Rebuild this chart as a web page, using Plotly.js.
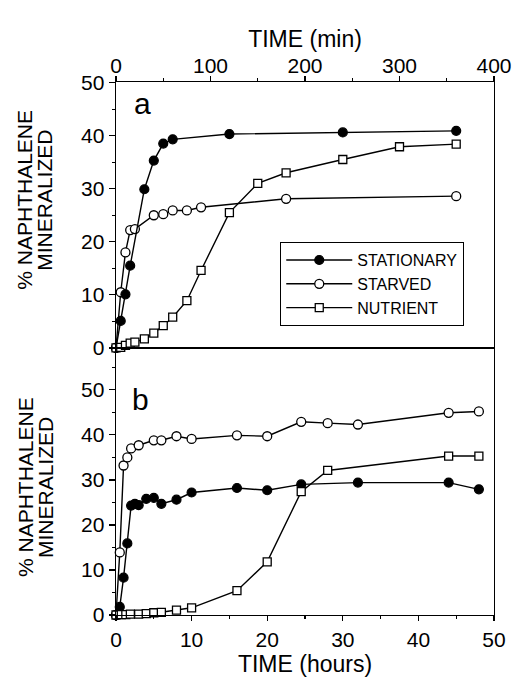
<!DOCTYPE html>
<html>
<head>
<meta charset="utf-8">
<script src="https://cdn.plot.ly/plotly-3.0.1.min.js"></script>
<style>html,body{margin:0;padding:0;background:#fff;}#chart{width:516px;height:685px;}</style>
</head>
<body>
<div id="chart"></div>
<script>
// Panel a: time in minutes
const aStationaryT = [0, 5, 10, 15, 30, 40, 50, 60, 120, 240, 360];
const aStationaryY = [0, 5.1, 10.1, 15.5, 29.9, 35.3, 38.5, 39.3, 40.3, 40.6, 40.9];
const aStarvedT = [0, 5, 10, 15, 20, 40, 50, 60, 75, 90, 180, 360];
const aStarvedY = [0, 10.5, 18.0, 22.2, 22.4, 25.0, 25.2, 25.9, 25.9, 26.5, 28.1, 28.6];
const aNutrientT = [0, 5, 10, 15, 20, 30, 40, 50, 60, 75, 90, 120, 150, 180, 240, 300, 360];
const aNutrientY = [0, 0.1, 0.5, 0.9, 1.1, 1.7, 2.8, 4.2, 5.8, 8.9, 14.6, 25.5, 31.0, 33.0, 35.5, 37.9, 38.4];

// Panel b: time in hours
const bStationaryT = [0, 0.5, 1, 1.5, 2, 2.5, 3, 4, 5, 6, 8, 10, 16, 20, 24.5, 32, 44, 48];
const bStationaryY = [0, 1.8, 8.3, 15.9, 24.3, 24.7, 24.4, 25.8, 26.0, 24.7, 25.6, 27.2, 28.2, 27.7, 29.0, 29.4, 29.4, 27.9];
const bStarvedT = [0, 0.5, 1, 1.5, 2, 3, 5, 6, 8, 10, 16, 20, 24.5, 28, 32, 44, 48];
const bStarvedY = [0, 13.9, 33.2, 35.0, 37.0, 37.7, 38.8, 38.8, 39.7, 39.1, 39.9, 39.7, 42.9, 42.6, 42.3, 44.9, 45.2];
const bNutrientT = [0, 0.7, 1.3, 1.9, 3, 4, 5, 6, 8, 10, 16, 20, 24.5, 28, 44, 48];
const bNutrientY = [0, 0.1, 0.1, 0.2, 0.2, 0.3, 0.5, 0.6, 1.1, 1.6, 5.4, 11.8, 27.4, 32.1, 35.3, 35.3];

const seriesNames = ['STATIONARY', 'STARVED', 'NUTRIENT'];
const xTitleA = 'TIME (min)';
const xTitleB = 'TIME (hours)';
const yTitleLines = ['% NAPHTHALENE', 'MINERALIZED'];
const panelLabels = ['a', 'b'];

const FONT = 'Liberation Sans, Arial, Helvetica, sans-serif';
const lineStyle = {color: '#000', width: 1.4};
const mk = {
  filled: {symbol: 'circle', size: 9, color: '#000', line: {color: '#000', width: 1.2}},
  open: {symbol: 'circle', size: 9, color: '#fff', line: {color: '#000', width: 1.3}},
  square: {symbol: 'square', size: 8, color: '#fff', line: {color: '#000', width: 1.3}}
};

function tr(x, y, name, marker, xa, ya, show) {
  return {x: x, y: y, name: name, type: 'scatter', mode: 'lines+markers',
    line: lineStyle, marker: marker, xaxis: xa, yaxis: ya, showlegend: show,
    cliponaxis: false, hoverinfo: 'skip'};
}

const data = [
  tr(aStarvedT, aStarvedY, seriesNames[1], mk.open, 'x', 'y', false),
  tr(aStationaryT, aStationaryY, seriesNames[0], mk.filled, 'x', 'y', false),
  tr(aNutrientT, aNutrientY, seriesNames[2], mk.square, 'x', 'y', false),
  tr(bStationaryT, bStationaryY, seriesNames[0], mk.filled, 'x2', 'y2', false),
  tr(bStarvedT, bStarvedY, seriesNames[1], mk.open, 'x2', 'y2', false),
  tr(bNutrientT, bNutrientY, seriesNames[2], mk.square, 'x2', 'y2', false),
  // legend entries (no data)
  {x: [null], y: [null], name: seriesNames[0], type: 'scatter', mode: 'lines+markers', line: lineStyle, marker: mk.filled, xaxis: 'x', yaxis: 'y', showlegend: true},
  {x: [null], y: [null], name: seriesNames[1], type: 'scatter', mode: 'lines+markers', line: lineStyle, marker: mk.open, xaxis: 'x', yaxis: 'y', showlegend: true},
  {x: [null], y: [null], name: seriesNames[2], type: 'scatter', mode: 'lines+markers', line: lineStyle, marker: mk.square, xaxis: 'x', yaxis: 'y', showlegend: true}
];

const axBase = {
  showline: true, linecolor: '#000', linewidth: 1.4, mirror: true,
  showgrid: false, zeroline: false, ticks: 'outside', ticklen: 6, tickwidth: 1.2, tickcolor: '#000',
  tickfont: {family: FONT, size: 21, color: '#000'},
  minor: {ticks: 'outside', ticklen: 3, tickwidth: 1.1, tickcolor: '#000', showgrid: false}
};

const split = 0.501;
const layout = {
  width: 516, height: 685,
  margin: {l: 116, r: 22, t: 82, b: 70},
  paper_bgcolor: '#fff', plot_bgcolor: '#fff',
  font: {family: FONT, color: '#000'},
  showlegend: true,
  legend: {x: 0.434, y: 0.70, xanchor: 'left', yanchor: 'top',
    bordercolor: '#000', borderwidth: 1.2, bgcolor: '#fff',
    font: {family: FONT, size: 16, color: '#000'}, itemwidth: 66, tracegroupgap: 0},
  xaxis: Object.assign({}, axBase, {domain: [0, 1], anchor: 'y', side: 'top',
    range: [0, 400], tick0: 0, dtick: 100, ticklen: 5, ticklabelstandoff: -6,
    minor: Object.assign({}, axBase.minor, {dtick: 50}),
    title: {text: xTitleA, font: {family: FONT, size: 23, color: '#000'}, standoff: 0}}),
  yaxis: Object.assign({}, axBase, {domain: [split, 1], anchor: 'x',
    range: [0, 50.1], tick0: 0, dtick: 10, minor: Object.assign({}, axBase.minor, {dtick: 5})}),
  xaxis2: Object.assign({}, axBase, {domain: [0, 1], anchor: 'y2', side: 'bottom',
    range: [0, 50], tick0: 0, dtick: 10, ticklen: 5, minor: Object.assign({}, axBase.minor, {dtick: 5}),
    title: {text: xTitleB, font: {family: FONT, size: 23, color: '#000'}, standoff: 4}}),
  yaxis2: Object.assign({}, axBase, {domain: [0, split], anchor: 'x2',
    range: [0, 59.3], tick0: 0, dtick: 10, minor: Object.assign({}, axBase.minor, {dtick: 5})}),
  annotations: [
    {text: yTitleLines[0], xref: 'paper', yref: 'paper', x: -0.241, y: 0.779, xanchor: 'center', yanchor: 'middle', textangle: -90, showarrow: false, font: {family: FONT, size: 21, color: '#000'}},
    {text: yTitleLines[1], xref: 'paper', yref: 'paper', x: -0.188, y: 0.779, xanchor: 'center', yanchor: 'middle', textangle: -90, showarrow: false, font: {family: FONT, size: 21, color: '#000'}},
    {text: yTitleLines[0], xref: 'paper', yref: 'paper', x: -0.241, y: 0.240, xanchor: 'center', yanchor: 'middle', textangle: -90, showarrow: false, font: {family: FONT, size: 21, color: '#000'}},
    {text: yTitleLines[1], xref: 'paper', yref: 'paper', x: -0.188, y: 0.240, xanchor: 'center', yanchor: 'middle', textangle: -90, showarrow: false, font: {family: FONT, size: 21, color: '#000'}},
    {text: panelLabels[0], xref: 'paper', yref: 'paper', x: 0.069, y: 0.959, xanchor: 'center', yanchor: 'middle', showarrow: false, font: {family: FONT, size: 30, color: '#000'}},
    {text: panelLabels[1], xref: 'paper', yref: 'paper', x: 0.064, y: 0.405, xanchor: 'center', yanchor: 'middle', showarrow: false, font: {family: FONT, size: 30, color: '#000'}}
  ]
};

Plotly.newPlot('chart', data, layout, {staticPlot: true, displayModeBar: false});
</script>
</body>
</html>
